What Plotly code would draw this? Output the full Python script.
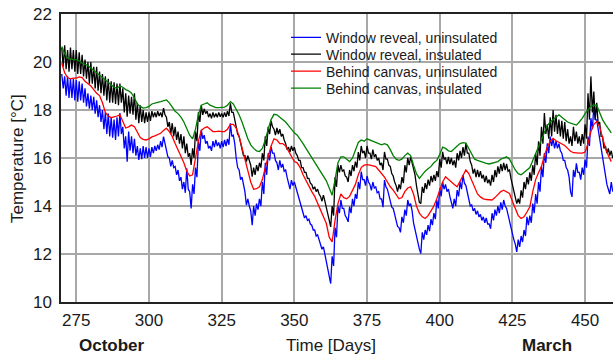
import plotly.graph_objects as go

# ---------------- data ----------------
days = list(range(270, 460))  # daily samples, day 270 .. 459

green_ins_canvas = [
    20.65, 20.35, 20.16, 20.12, 20.1, 20.1, 20.05, 19.95, 19.9, 19.85,
    19.75, 19.65, 19.55, 19.45, 19.35, 19.25, 19.15, 19.05, 18.95, 18.9,
    19.0, 18.95, 18.85, 18.8, 18.7, 18.5, 18.25, 18.15, 18.08, 18.1,
    18.15, 18.25, 18.3, 18.32, 18.35, 18.4, 18.42, 18.3, 18.1, 17.95,
    17.85, 17.7, 17.5, 17.25, 16.95, 16.8, 17.2, 17.8, 18.2, 18.25,
    18.3, 18.2, 18.15, 18.1, 18.1, 18.1, 18.12, 18.2, 18.35, 18.25,
    18.05, 17.8, 17.5, 17.15, 16.8, 16.55, 16.4, 16.3, 16.27, 16.4,
    16.75, 17.2, 17.6, 17.82, 17.8, 17.7, 17.6, 17.5, 17.35, 17.2,
    17.05, 16.95, 16.8, 16.6, 16.4, 16.2, 16.05, 15.85, 15.6, 15.4,
    15.2, 15.05, 14.75, 14.45, 15.1, 15.8, 16.05, 16.05, 15.95, 15.85,
    16.0, 16.35, 16.65, 16.75, 16.7, 16.8, 16.75, 16.7, 16.65, 16.6,
    16.55, 16.6, 16.55, 16.35, 16.1, 15.95, 15.9, 15.95, 16.1, 16.2,
    16.1, 15.7, 15.35, 15.15, 15.3, 15.45, 15.55, 15.65, 15.8, 15.9,
    16.15, 16.45, 16.4, 16.3, 16.27, 16.4, 16.5, 16.6, 16.64, 16.62,
    16.4, 16.15, 15.95, 15.9, 15.85, 15.8, 15.78, 15.75, 15.78, 15.8,
    15.85, 15.95, 16.0, 16.05, 15.95, 15.7, 15.5, 15.35, 15.3, 15.4,
    15.5, 15.6, 15.9, 16.2, 16.45, 16.8, 17.1, 17.35, 17.5, 17.6,
    17.7, 17.8, 17.7, 17.6, 17.5, 17.45, 17.4, 17.37, 17.5, 17.65,
    17.85, 18.0, 18.15, 18.2, 18.2, 17.9, 17.6, 17.4, 17.2, 17.05,
]

red_unins_canvas = [
    19.95, 19.55, 19.35, 19.3, 19.33, 19.33, 19.38, 19.35, 19.2, 19.1,
    19.0, 18.85, 18.7, 18.6, 18.3, 17.9, 17.75, 17.68, 17.7, 17.75,
    17.8, 17.5, 17.25, 17.3, 17.37, 17.3, 17.1, 16.85, 16.78, 16.75,
    16.8, 16.88, 16.92, 16.98, 17.03, 17.15, 17.24, 17.1, 16.9, 16.6,
    16.35, 16.1, 15.8, 15.45, 15.25, 15.3, 16.0, 16.7, 17.15, 17.25,
    17.3, 17.2, 17.1, 17.1, 17.12, 17.1, 17.1, 17.2, 17.4, 17.4,
    17.25, 16.9, 16.45, 15.95, 15.55, 15.0, 14.7, 14.72, 14.8, 15.1,
    15.6, 16.1, 16.5, 16.8, 16.75, 16.6, 16.6, 16.5, 16.3, 16.05,
    15.85, 15.8, 15.6, 15.3, 15.05, 14.82, 14.6, 14.4, 14.1, 13.85,
    13.55, 13.27, 12.7, 12.5, 13.4, 14.1, 14.5, 14.35, 14.3, 14.4,
    14.65, 14.9, 15.3, 15.6, 15.7, 15.72, 15.7, 15.66, 15.64, 15.5,
    15.35, 15.2, 15.0, 14.8, 14.66, 14.45, 14.3, 14.35, 14.6, 14.75,
    14.8, 14.5, 14.0, 13.7, 13.55, 13.48, 13.6, 13.8, 14.0, 14.3,
    14.65, 15.0, 15.22, 15.1, 15.0, 14.9, 14.8, 15.05, 15.3, 15.5,
    15.35, 15.05, 14.75, 14.5, 14.38, 14.3, 14.27, 14.25, 14.25, 14.35,
    14.5, 14.6, 14.66, 14.6, 14.52, 14.2, 13.9, 13.6, 13.48, 13.55,
    13.75, 13.97, 14.6, 15.1, 15.4, 15.65, 16.1, 16.45, 16.7, 16.82,
    16.72, 16.65, 16.6, 16.52, 16.4, 16.28, 16.22, 16.2, 16.2, 16.2,
    16.25, 16.6, 17.1, 17.4, 17.52, 17.3, 16.85, 16.4, 16.1, 15.85,
]

# window reveal, insulated: daily high and daily low
black_hi = [
    20.6, 20.7, 20.5, 20.6, 20.5, 20.5, 20.4, 20.3, 20.1, 20.0,
    20.0, 19.8, 19.8, 19.6, 19.5, 19.4, 19.3, 19.2, 19.15, 19.1,
    19.1, 18.9, 18.7, 18.6, 18.55, 18.7, 18.3, 18.2, 18.0, 17.9,
    17.9, 17.95, 17.9, 17.95, 17.9, 18.08, 17.7, 17.5, 17.45, 17.3,
    17.1, 17.0, 16.9, 16.6, 16.2, 16.4, 17.1, 17.9, 18.2, 18.05,
    17.95, 17.85, 17.9, 17.85, 17.9, 17.85, 17.9, 17.95, 18.28, 17.9,
    17.3, 16.9, 16.4, 16.1, 16.1, 15.7, 15.6, 15.7, 15.8, 16.2,
    16.9, 17.3, 17.55, 17.2, 17.25, 17.2, 17.0, 16.6, 16.45, 16.5,
    16.45, 16.1, 15.9, 15.6, 15.4, 15.15, 14.9, 14.8, 14.7, 14.4,
    14.45, 13.9, 13.4, 14.0, 15.2, 15.71, 15.7, 15.5, 15.2, 15.5,
    15.7, 15.85, 16.25, 16.5, 16.3, 16.5, 16.2, 16.35, 16.15, 16.0,
    15.8, 16.25, 15.95, 15.65, 15.25, 14.85, 14.9, 15.2, 15.7, 16.0,
    16.05, 15.6, 14.85, 14.15, 14.8, 14.95, 15.1, 15.25, 15.3, 15.45,
    15.95, 16.26, 16.0, 16.05, 16.0, 15.9, 16.2, 16.3, 16.45, 16.61,
    16.2, 15.7, 15.55, 15.5, 15.45, 15.3, 15.25, 15.1, 15.3, 15.5,
    15.65, 15.75, 15.8, 15.75, 15.5, 14.9, 14.45, 14.3, 14.65, 15.0,
    15.2, 15.4, 15.7, 16.2, 16.7, 17.3, 17.87, 17.4, 17.7, 18.0,
    17.8, 17.6, 17.55, 17.5, 17.2, 16.9, 17.3, 17.1, 16.9, 17.0,
    17.4, 18.7, 19.4, 18.77, 18.3, 17.5, 16.9, 16.5, 16.4, 16.3,
]
black_lo = [
    19.8, 19.7, 19.6, 19.7, 19.6, 19.5, 19.5, 19.4, 19.3, 19.1,
    19.1, 18.9, 18.8, 18.7, 18.6, 18.4, 18.3, 18.3, 18.25, 18.2,
    18.3, 17.9, 17.72, 17.85, 17.8, 17.6, 17.45, 17.5, 17.45, 17.5,
    17.55, 17.7, 17.7, 17.75, 17.7, 17.8, 17.3, 17.0, 16.9, 16.75,
    16.6, 16.4, 16.2, 16.05, 15.71, 16.0, 16.7, 17.5, 17.8, 17.85,
    17.7, 17.65, 17.7, 17.7, 17.72, 17.7, 17.72, 17.75, 17.9, 17.6,
    17.0, 16.6, 16.1, 15.85, 15.9, 15.22, 15.3, 15.45, 15.6, 15.9,
    16.5, 17.0, 17.3, 16.95, 17.0, 16.9, 16.75, 16.35, 16.25, 16.3,
    16.2, 15.9, 15.6, 15.4, 15.15, 14.95, 14.7, 14.6, 14.5, 14.2,
    14.2, 13.55, 13.13, 13.6, 14.8, 15.4, 15.45, 15.25, 15.0, 15.25,
    15.45, 15.6, 15.9, 16.2, 16.0, 16.2, 15.95, 16.05, 15.9, 15.7,
    15.5, 15.95, 15.7, 15.35, 15.0, 14.6, 14.7, 14.95, 15.4, 15.7,
    15.8, 15.3, 14.5, 14.1, 14.55, 14.7, 14.85, 15.0, 15.05, 15.2,
    15.6, 15.95, 15.75, 15.75, 15.7, 15.6, 15.9, 16.0, 16.1, 16.2,
    15.85, 15.35, 15.2, 15.2, 15.15, 15.0, 14.95, 14.85, 15.0, 15.2,
    15.35, 15.45, 15.5, 15.45, 15.15, 14.6, 14.1, 14.1, 14.35, 14.7,
    14.9, 15.05, 15.3, 15.7, 16.1, 16.6, 17.0, 16.8, 16.9, 17.1,
    17.0, 16.9, 16.8, 16.7, 16.6, 16.5, 16.7, 16.6, 16.5, 16.6,
    16.8, 17.6, 17.9, 17.6, 17.4, 16.9, 16.4, 16.2, 16.1, 16.0,
]

# window reveal, uninsulated: daily high and daily low
blue_hi = [
    19.5, 19.4, 19.4, 19.3, 19.3, 19.25, 19.2, 19.1, 18.9, 18.7,
    18.6, 18.55, 18.4, 18.2, 18.0, 17.9, 17.85, 17.7, 17.6, 17.7,
    17.87, 17.3, 16.9, 17.1, 16.9, 16.8, 16.5, 16.4, 16.5, 16.45,
    16.4, 16.45, 16.5, 16.55, 16.7, 16.89, 16.4, 16.0, 15.9, 15.65,
    15.5, 15.2, 15.0, 15.57, 14.6, 14.9, 15.6, 16.7, 17.17, 16.95,
    16.7, 16.5, 16.7, 16.75, 16.65, 16.7, 16.75, 16.8, 17.45, 16.95,
    16.0, 15.5, 15.2, 14.6, 14.3, 13.8, 14.0, 14.1, 14.3, 15.0,
    15.8, 16.2, 16.47, 16.2, 15.8, 15.9, 15.75, 15.5, 14.9, 15.08,
    15.0, 14.6, 14.2, 13.7, 13.6, 13.45, 13.2, 13.0, 12.8, 12.4,
    12.3, 11.6, 11.1, 11.9, 13.1, 14.0, 14.25, 13.9, 13.5, 13.97,
    14.3, 14.5, 15.0, 15.43, 15.1, 15.25, 14.9, 15.0, 14.8, 14.6,
    14.3, 15.08, 14.7, 14.2, 13.9, 13.4, 13.1, 13.55, 13.85, 14.25,
    14.1, 13.3, 12.7, 12.2, 12.9, 13.0, 13.2, 13.45, 13.7, 14.25,
    14.73, 15.0, 14.9, 14.7, 14.2, 14.3, 14.66, 15.0, 15.29, 14.85,
    14.3, 14.05, 13.9, 13.8, 13.65, 13.55, 13.5, 13.25, 13.7, 13.85,
    14.0, 14.15, 14.25, 13.9, 13.3, 12.85, 12.4, 12.6, 12.75, 13.0,
    13.55, 13.6, 14.1, 14.5, 15.0, 15.64, 16.2, 16.61, 16.89, 16.8,
    16.7, 16.6, 16.2, 15.9, 15.5, 14.6, 15.5, 15.78, 15.4, 15.6,
    15.92, 16.89, 17.66, 18.14, 17.59, 16.8, 15.9, 15.2, 14.7, 15.0,
]
blue_lo = [
    18.9, 18.6, 18.5, 18.5, 18.4, 18.35, 18.4, 18.3, 18.15, 18.05,
    18.0, 17.85, 17.7, 17.5, 17.2, 17.0, 16.9, 16.85, 16.75, 16.9,
    17.0, 16.4, 15.85, 16.3, 16.2, 16.1, 15.92, 15.95, 16.0, 16.0,
    16.05, 16.2, 16.3, 16.35, 16.45, 16.6, 16.05, 15.65, 15.6, 15.3,
    15.05, 14.7, 14.55, 14.7, 13.9, 14.5, 15.2, 16.3, 16.8, 16.6,
    16.4, 16.3, 16.45, 16.5, 16.4, 16.45, 16.5, 16.55, 16.9, 16.6,
    15.6, 15.1, 14.9, 14.04, 14.0, 13.2, 13.6, 13.85, 14.0, 14.5,
    15.3, 15.9, 16.2, 15.9, 15.5, 15.6, 15.45, 15.2, 14.7, 14.85,
    14.8, 14.35, 13.9, 13.5, 13.4, 13.25, 13.0, 12.75, 12.6, 12.2,
    12.0, 11.3, 10.77, 11.5, 12.7, 13.7, 13.9, 13.6, 13.34, 13.7,
    14.0, 14.3, 14.7, 15.1, 14.85, 15.0, 14.65, 14.75, 14.55, 14.3,
    13.95, 14.8, 14.45, 13.95, 13.65, 13.15, 12.9, 13.3, 13.6, 14.0,
    13.8, 13.0, 12.4, 12.02, 12.6, 12.8, 12.95, 13.2, 13.45, 13.9,
    14.4, 14.7, 14.6, 14.4, 13.9, 14.0, 14.4, 14.7, 14.95, 14.55,
    14.0, 13.8, 13.65, 13.55, 13.4, 13.3, 13.25, 13.05, 13.4, 13.6,
    13.7, 13.85, 14.0, 13.6, 13.0, 12.6, 12.09, 12.3, 12.5, 12.75,
    13.2, 13.3, 13.7, 14.1, 14.6, 15.2, 15.8, 16.2, 16.5, 16.4,
    16.4, 16.3, 15.9, 15.6, 15.2, 14.38, 15.2, 15.4, 15.1, 15.3,
    15.6, 16.5, 17.2, 17.6, 17.2, 16.4, 15.5, 14.9, 14.5, 14.6,
]

x_ticks = [275, 300, 325, 350, 375, 400, 425, 450]
y_ticks = [10, 12, 14, 16, 18, 20, 22]
series_names = [
    "Window reveal, uninsulated",
    "Window reveal, insulated",
    "Behind canvas, uninsulated",
    "Behind canvas, insulated",
]
colors = ["#0000ff", "#000000", "#ff0000", "#008000"]


def hi_lo_series(hi, lo):
    xs, ys = [], []
    for d, h, l in zip(days, hi, lo):
        xs += [d, d + 0.5]
        ys += [h, l]
    return xs, ys


bx, by = hi_lo_series(blue_hi, blue_lo)
kx, ky = hi_lo_series(black_hi, black_lo)

FONT = "Liberation Sans, Arial, sans-serif"
W, H = 613, 358
ML, MT, MR, MB = 61, 14, 0, 56
PW, PH = W - ML - MR, H - MT - MB


def px_x(p):
    return (p - ML) / PW


def px_y(p):
    return (H - MB - p) / PH


fig = go.Figure()
traces = [(bx, by), (kx, ky), (days, red_unins_canvas), (days, green_ins_canvas)]
legend_rows = [37.7, 54.5, 71.5, 88.5]
for i, ((xs, ys), name, c) in enumerate(zip(traces, series_names, colors)):
    lg = "legend" if i == 0 else f"legend{i+1}"
    fig.add_trace(go.Scatter(x=xs, y=ys, mode="lines", name=name,
                             line=dict(color=c, width=1.3), legend=lg))

legend_common = dict(bgcolor="rgba(0,0,0,0)", borderwidth=0,
                     font=dict(family=FONT, size=14, color="#1a1a1a"),
                     xanchor="left", yanchor="middle", x=px_x(286),
                     itemwidth=30)
layout_legends = {}
for i, row in enumerate(legend_rows):
    key = "legend" if i == 0 else f"legend{i+1}"
    layout_legends[key] = dict(legend_common, y=px_y(row))

fig.update_layout(
    width=W, height=H,
    margin=dict(l=ML, r=MR, t=MT, b=MB),
    paper_bgcolor="white", plot_bgcolor="white",
    showlegend=True,
    font=dict(family=FONT, size=17, color="#1a1a1a"),
    **layout_legends,
)

fig.update_xaxes(
    range=[269.74, 459.6], tickvals=x_ticks, ticks="",
    showgrid=True, gridcolor="#a8a8a8", gridwidth=1.6,
    showline=True, linecolor="#222", linewidth=1.5, mirror=True,
    zeroline=False, tickfont=dict(size=17), ticklabelstandoff=2,
)
fig.update_yaxes(
    range=[10, 22], tickvals=y_ticks, ticks="",
    showgrid=True, gridcolor="#a8a8a8", gridwidth=1.6,
    showline=True, linecolor="#222", linewidth=1.5, mirror=False,
    zeroline=False, tickfont=dict(size=17), ticklabelstandoff=4,
)

# white legend box over the grid
fig.add_shape(type="rect", xref="paper", yref="paper",
              x0=px_x(296), x1=px_x(503), y0=px_y(100), y1=px_y(33),
              fillcolor="white", line=dict(width=0), layer="between")

fig.add_annotation(text="Time [Days]", xref="paper", yref="paper",
                   x=px_x(331), y=px_y(345), showarrow=False,
                   font=dict(size=17), xanchor="center", yanchor="middle")
fig.add_annotation(text="<b>October</b>", xref="paper", yref="paper",
                   x=px_x(112), y=px_y(345), showarrow=False,
                   font=dict(size=17), xanchor="center", yanchor="middle")
fig.add_annotation(text="<b>March</b>", xref="paper", yref="paper",
                   x=px_x(547), y=px_y(345), showarrow=False,
                   font=dict(size=17), xanchor="center", yanchor="middle")
fig.add_annotation(text="Temperature [°C]", xref="paper", yref="paper",
                   x=px_x(17), y=px_y(159), showarrow=False, textangle=-90,
                   font=dict(size=17), xanchor="center", yanchor="middle")

fig.write_html(
    "out.html",
    config={"displayModeBar": False},
    post_script="document.body.style.margin='0';document.body.style.overflow='hidden';",
)
